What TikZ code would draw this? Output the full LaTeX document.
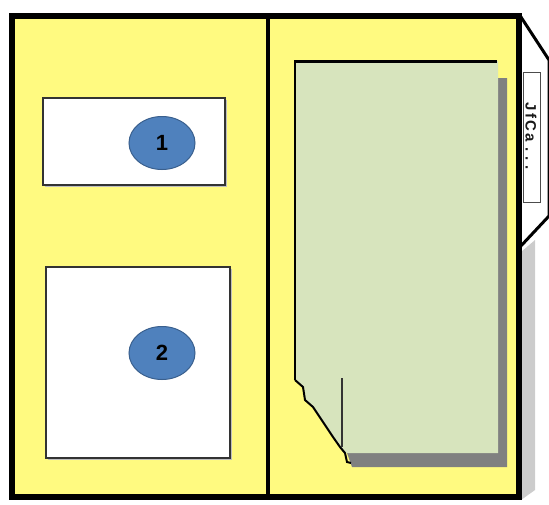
\documentclass[tikz,border=0pt]{standalone}
\usepackage{fontspec}
\setsansfont{Liberation Sans}
\usepackage{tikz}
\usetikzlibrary{arrows.meta, positioning, calc, shapes.geometric}
\definecolor{PadYellow}{RGB}{255,250,128}
\definecolor{PageGreen}{RGB}{215,228,189}
\definecolor{MarkBlue}{RGB}{79,129,189}
\definecolor{MarkEdge}{RGB}{58,96,142}
\definecolor{ShadowGray}{RGB}{128,128,128}

\begin{document}
\begin{tikzpicture}[x=1pt, y=-1pt, thick,
    marker/.style={ellipse, fill=MarkBlue, draw=MarkEdge, line width=1pt,
      minimum width=66pt, minimum height=53pt, inner sep=0pt,
      font=\sffamily\bfseries\fontsize{22}{22}\selectfont}]
        \useasboundingbox (0,0) rectangle (549,504);
        % Side flap with its tab
        \fill [gray!40] (521,252) -- (535,240) -- (535,490) -- (521,500) -- cycle;
        \draw [fill=white, line width=3pt] (519,14) -- (549,60) -- (549,216) -- (519,248);
        \draw [gray!60!black, line width=1pt, fill=white] (523,72) rectangle (540,202);
        \node [rotate=-90, font=\sffamily\bfseries\fontsize{15}{15}\selectfont, gray!20!black] (tab) at (531,136) {J\,f\,C\,a\,\,.\,\,.\,\,.};
        % Folder body
        \draw [fill=PadYellow, line width=6pt] (12,16) rectangle (519,497);
        \draw [line width=4pt] (268,16) -- (268,497);
        % Left pockets
        \fill [gray!50] (45,100) rectangle (227,187);
        \draw [black!80, line width=1.5pt, fill=white] (43,98) rectangle (225,185);
        \fill [gray!50] (48,269) rectangle (232,460);
        \draw [black!80, line width=1.5pt, fill=white] (46,267) rectangle (230,458);
        \node [marker] (one) at (162,143) {1};
        \node [marker] (two) at (162,353) {2};
        % Sheet with a folded corner
        \fill [ShadowGray] (498,78) -- (507,78) -- (507,467) -- (352,467) -- (347,453) -- (498,453) -- cycle;
        \fill [PageGreen] (295,61) -- (498,61) -- (498,453) -- (345,453) -- (340,447)
            -- (333,437) -- (323,422) -- (313,407) -- (305,400) -- (303,387) -- (295,380) -- cycle;
        \draw [line width=3pt] (294,61) -- (497,61);
        \draw [line width=2pt] (295,61) -- (295,380);
        \draw [line width=2pt] (295,380) -- (303,387) -- (305,400) -- (313,407) -- (323,422)
            -- (333,437) -- (340,447) -- (345,453) -- (347,462) -- (351,463);
        \draw [black!80, line width=1.5pt] (342,378) -- (342,447);
    \end{tikzpicture}
\end{document}
